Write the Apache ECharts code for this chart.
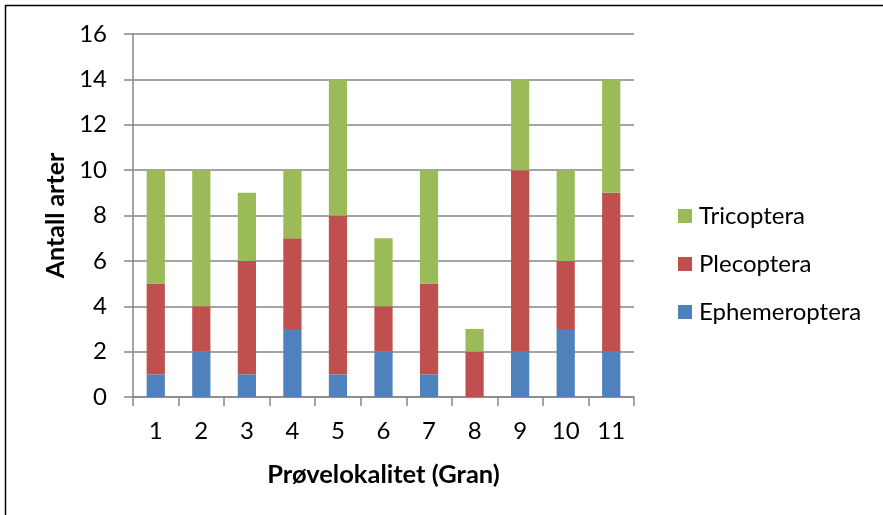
<!DOCTYPE html>
<html>
<head>
<meta charset="utf-8">
<script src="https://cdn.jsdelivr.net/npm/echarts@6/dist/echarts.min.js"></script>
<style>
  html, body { margin: 0; padding: 0; background: #fff; }
  #chart { width: 883px; height: 515px; }
</style>
</head>
<body>
<div id="chart"></div>
<script>
// Number of species per sampling locality (Gran), split by insect order
const localities = ['1', '2', '3', '4', '5', '6', '7', '8', '9', '10', '11'];
const ephemeroptera = [1, 2, 1, 3, 1, 2, 1, 0, 2, 3, 2];
const plecoptera    = [4, 2, 5, 4, 7, 2, 4, 2, 8, 3, 7];
const tricoptera    = [5, 6, 3, 3, 6, 3, 5, 1, 4, 4, 5];
const legendOrder   = ['Tricoptera', 'Plecoptera', 'Ephemeroptera'];

const FONT = 'Lato';
const GRID_COLOR = '#868686';

const chart = echarts.init(document.getElementById('chart'), null, { renderer: 'canvas' });

function stackSeries(name, data, color) {
  return {
    name: name,
    type: 'bar',
    stack: 'arter',
    data: data,
    barWidth: '40%',
    itemStyle: { color: color },
    emphasis: { disabled: true }
  };
}

chart.setOption({
  animation: false,
  backgroundColor: '#fff',
  textStyle: { fontFamily: FONT },
  graphic: [{
    type: 'rect',
    silent: true,
    shape: { x: 5.5, y: 5.5, width: 1200, height: 1200 },
    style: { fill: 'none', stroke: '#000', lineWidth: 1.5 }
  }],
  grid: { left: 133, right: 249, top: 34, bottom: 118 },
  legend: {
    orient: 'vertical',
    left: 678,
    top: 204,
    padding: 0,
    data: legendOrder,
    icon: 'rect',
    itemWidth: 14,
    itemHeight: 14,
    itemGap: 24,
    textStyle: { fontFamily: FONT, fontSize: 24, color: '#000', lineHeight: 24, padding: [0, 0, 0, 2] }
  },
  xAxis: {
    type: 'category',
    data: localities,
    name: 'Prøvelokalitet (Gran)',
    nameLocation: 'middle',
    nameGap: 65,
    nameTextStyle: { fontFamily: FONT, fontSize: 25.5, fontWeight: 'bold', color: '#000' },
    axisLine: { lineStyle: { color: GRID_COLOR, width: 1.5 } },
    axisTick: { show: true, length: 9, lineStyle: { color: GRID_COLOR, width: 1.5 } },
    axisLabel: { fontFamily: FONT, fontSize: 24, color: '#000', margin: 22 }
  },
  yAxis: {
    type: 'value',
    min: 0,
    max: 16,
    interval: 2,
    name: 'Antall arter',
    nameLocation: 'middle',
    nameGap: 63,
    nameTextStyle: { fontFamily: FONT, fontSize: 25, fontWeight: 'bold', color: '#000' },
    axisLine: { show: true, lineStyle: { color: GRID_COLOR, width: 1.5 } },
    axisTick: { show: true, length: 9, lineStyle: { color: GRID_COLOR, width: 1.5 } },
    axisLabel: { fontFamily: FONT, fontSize: 24, color: '#000', margin: 26 },
    splitLine: { lineStyle: { color: GRID_COLOR, width: 1.5 } }
  },
  series: [
    stackSeries('Ephemeroptera', ephemeroptera, '#4F81BD'),
    stackSeries('Plecoptera', plecoptera, '#C0504D'),
    stackSeries('Tricoptera', tricoptera, '#9BBB59')
  ]
});
</script>
</body>
</html>
